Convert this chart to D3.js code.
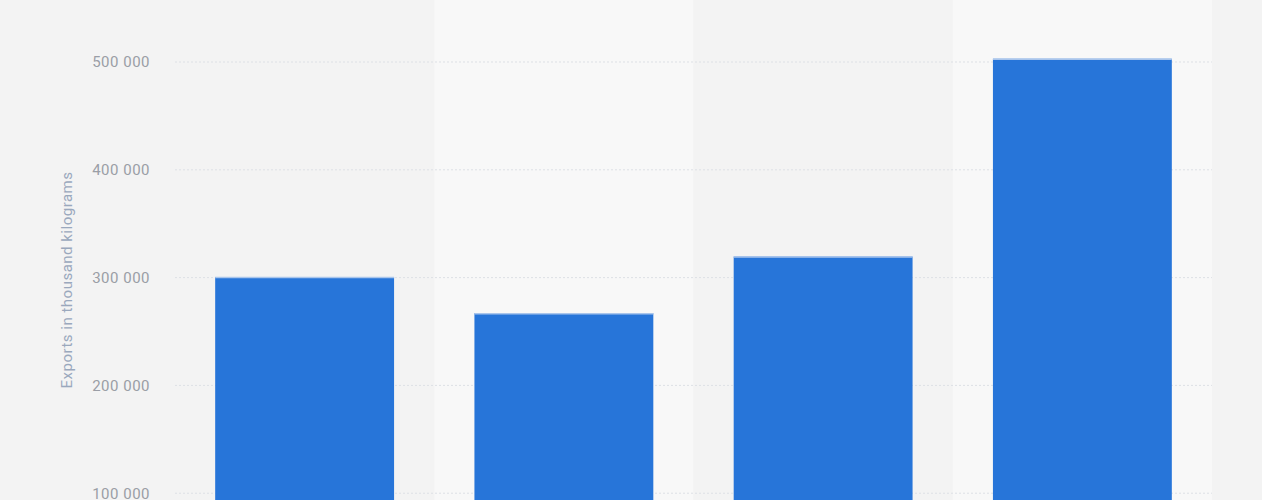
<!DOCTYPE html>
<html>
<head>
<meta charset="utf-8">
<script src="https://cdn.jsdelivr.net/npm/d3@7"></script>
<style>
  body { margin: 0; overflow: hidden; background: #f3f3f3; }
  text { font-family: Roboto, "Noto Sans", sans-serif; }
</style>
</head>
<body>
<svg id="chart"></svg>
<script>
// Chart data
const categories = ["2019", "2020", "2021", "2022"];
const exportValues = [300500, 267000, 319500, 503000];
const tickValues = [100000, 200000, 300000, 400000, 500000];
const axisTitle = "Exports in thousand kilograms";

// Layout: the plot runs past the bottom of the window, like the reference
const width = 1262;
const height = 640;
const margin = { top: 0, right: 50, bottom: 39, left: 175 };

const svg = d3.select("#chart")
  .attr("width", width)
  .attr("height", height);

const x = d3.scaleBand()
  .domain(categories)
  .range([margin.left, width - margin.right])
  .paddingInner(0)
  .paddingOuter(0);

const y = d3.scaleLinear()
  .domain([0, 500000])
  .range([height - margin.bottom, 62]);

// Page background
svg.append("rect")
  .attr("width", width)
  .attr("height", height)
  .attr("fill", "#f3f3f3");

// Alternating column bands
svg.append("g")
  .selectAll("rect")
  .data(categories)
  .join("rect")
  .attr("x", d => x(d))
  .attr("y", 0)
  .attr("width", x.bandwidth())
  .attr("height", height)
  .attr("fill", (d, i) => i % 2 === 1 ? "#f8f8f8" : "#f3f3f3");

// Gridlines
svg.append("g")
  .selectAll("line")
  .data(tickValues)
  .join("line")
  .attr("x1", margin.left)
  .attr("x2", width - margin.right)
  .attr("y1", d => y(d))
  .attr("y2", d => y(d))
  .attr("stroke", "#dde0e5")
  .attr("stroke-width", 1)
  .attr("stroke-dasharray", "2,2");

// Y axis labels
const yAxis = d3.axisLeft(y)
  .tickValues(tickValues)
  .tickSize(0)
  .tickPadding(0)
  .tickFormat(d => d3.format(",")(d).replace(/,/g, " "));

svg.append("g")
  .attr("transform", `translate(150,0)`)
  .call(yAxis)
  .call(g => g.select(".domain").remove())
  .call(g => g.selectAll("text")
    .attr("fill", "#9a9ea6")
    .attr("font-size", "15px")
    .attr("letter-spacing", "0.5px"));

// Axis title
svg.append("text")
  .attr("transform", `translate(72,280) rotate(-90)`)
  .attr("text-anchor", "middle")
  .attr("fill", "#9aa8bd")
  .attr("font-size", "15px")
  .attr("letter-spacing", "0.5px")
  .text(axisTitle);

// Bars
const barX = d3.scaleBand()
  .domain(categories)
  .range([margin.left, width - margin.right])
  .paddingInner(0.31)
  .paddingOuter(0.155);

svg.append("g")
  .selectAll("rect")
  .data(exportValues)
  .join("rect")
  .attr("x", (d, i) => barX(categories[i]))
  .attr("y", d => y(d))
  .attr("width", barX.bandwidth())
  .attr("height", d => y(0) - y(d))
  .attr("fill", "#2775d9");

// Light top edge on each bar
svg.append("g")
  .selectAll("line")
  .data(exportValues)
  .join("line")
  .attr("x1", (d, i) => barX(categories[i]))
  .attr("x2", (d, i) => barX(categories[i]) + barX.bandwidth())
  .attr("y1", d => y(d) + 0.5)
  .attr("y2", d => y(d) + 0.5)
  .attr("stroke", "#a9c5ec")
  .attr("stroke-width", 1.5);
</script>
</body>
</html>
